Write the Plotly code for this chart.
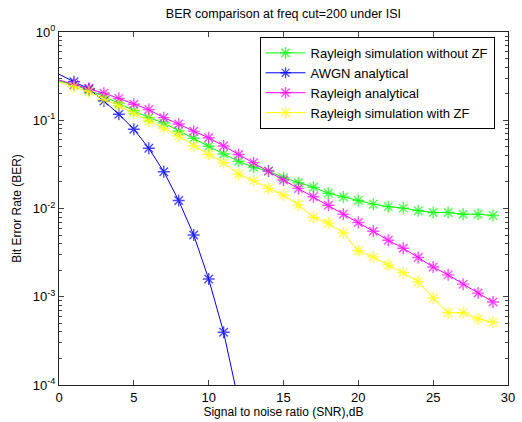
import plotly.graph_objects as go

snr = list(range(30))
snr_awgn = list(range(13))

ber_rayleigh_sim_no_zf = [0.279, 0.251, 0.220, 0.185, 0.156, 0.128, 0.107, 0.0931, 0.0755, 0.0624,
                          0.0507, 0.0415, 0.0343, 0.0293, 0.0266, 0.0223, 0.0196, 0.0174, 0.0149, 0.0135,
                          0.0123, 0.0112, 0.0105, 0.0101, 0.00945, 0.00901, 0.00901, 0.00861, 0.00861, 0.00833]
ber_awgn = [0.332, 0.273, 0.226, 0.165, 0.117, 0.0792, 0.0481, 0.0261, 0.0123, 0.00501,
            0.00159, 0.000396, 0.000065]
ber_rayleigh_analytical = [0.286, 0.255, 0.230, 0.202, 0.177, 0.152, 0.132, 0.107, 0.0907, 0.0752,
                           0.0633, 0.0511, 0.0409, 0.0331, 0.0266, 0.0210, 0.0169, 0.0136, 0.0109, 0.00859,
                           0.00694, 0.00552, 0.00436, 0.00354, 0.00279, 0.00217, 0.00177, 0.00139, 0.00110, 0.000871]
ber_rayleigh_sim_zf = [0.271, 0.240, 0.211, 0.173, 0.146, 0.120, 0.0981, 0.0811, 0.0668, 0.0515,
                       0.0409, 0.0330, 0.0245, 0.0207, 0.0169, 0.0142, 0.0110, 0.00795, 0.00685, 0.00528,
                       0.00332, 0.00282, 0.00229, 0.00187, 0.00148, 0.000968, 0.000659, 0.000659, 0.000560, 0.000513]

series = [
    ("Rayleigh simulation without ZF", snr, ber_rayleigh_sim_no_zf, "#00ff00"),
    ("AWGN analytical", snr_awgn, ber_awgn, "#0000ff"),
    ("Rayleigh analytical", snr, ber_rayleigh_analytical, "#ff00ff"),
    ("Rayleigh simulation with ZF", snr, ber_rayleigh_sim_zf, "#ffff00"),
]

fig = go.Figure()
for name, x, y, c in series:
    sizes = [0] + [10] * (len(x) - 1)
    fig.add_trace(go.Scatter(
        x=x, y=y, name=name, mode="lines+markers",
        line=dict(color=c, width=1),
        marker=dict(symbol="asterisk-open", size=sizes, color=c,
                    line=dict(color=c, width=1.4)),
    ))

font = dict(family="Arial", size=12, color="black")
tickfont = dict(family="Arial", size=13, color="black")
minor_vals = [k * 10 ** e for e in range(-4, 0) for k in range(2, 10)]

fig.update_layout(
    width=522, height=422,
    margin=dict(l=59, r=14, t=32, b=37),
    paper_bgcolor="white", plot_bgcolor="white",
    font=font,
    title=dict(text="BER comparison at freq cut=200 under ISI", x=0.543, xanchor="center",
               y=0.967, yanchor="middle", font=dict(family="Arial", size=12.5, color="black")),
    showlegend=True,
    legend=dict(x=0.97, xanchor="right", y=0.986, yanchor="top",
                bordercolor="black", borderwidth=1, bgcolor="white",
                font=dict(family="Arial", size=13, color="black"),
                tracegroupgap=0, itemwidth=40),
    xaxis=dict(range=[0, 30], dtick=5, tick0=0, ticks="inside", ticklen=5,
               showline=True, linecolor="#222", linewidth=1, mirror="ticks",
               showgrid=False, zeroline=False, automargin=False,
               title=dict(text="Signal to noise ratio (SNR),dB", standoff=2, font=font),
               tickfont=tickfont),
    yaxis=dict(type="log", range=[-4, 0], tickmode="array",
               tickvals=[1e-4, 1e-3, 1e-2, 1e-1, 1],
               ticktext=["10<sup>-4</sup>", "10<sup>-3</sup>", "10<sup>-2</sup>", "10<sup>-1</sup>", "10<sup>0</sup>"],
               ticks="inside", ticklen=5, showline=True, linecolor="#222", linewidth=1, mirror="ticks",
               showgrid=False, zeroline=False, automargin=False,
               minor=dict(tickmode="array", tickvals=minor_vals, ticks="inside", ticklen=3, showgrid=False),
               title=dict(text="Bit Error Rate (BER)", standoff=8, font=font),
               tickfont=tickfont),
)

fig.write_html("out.html", config={"displayModeBar": False},
               post_script="document.body.style.margin='0';document.body.style.padding='0';")
